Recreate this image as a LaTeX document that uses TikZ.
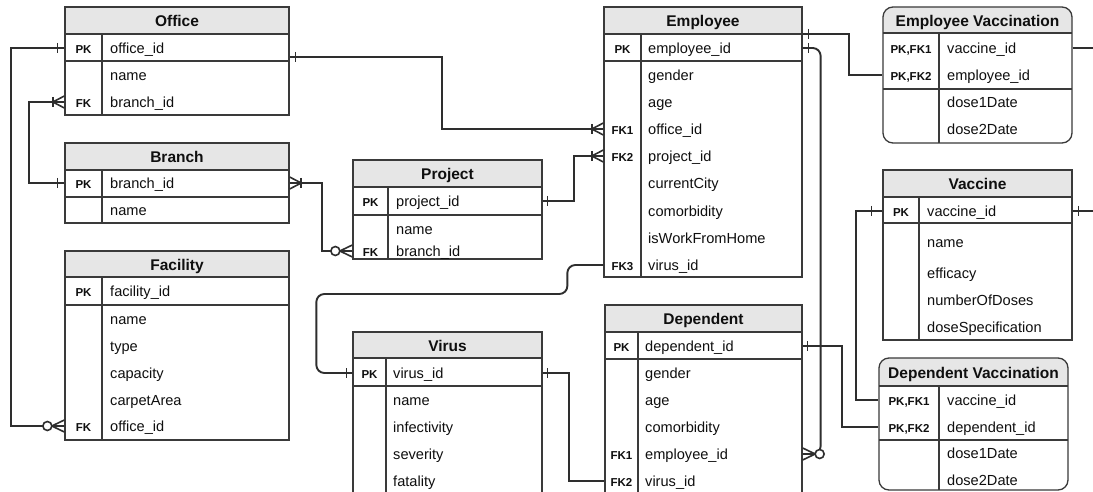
\documentclass[tikz,border=0pt]{standalone}
\usepackage{fontspec}
\setmainfont{Liberation Sans}
\usetikzlibrary{fit,calc}
\definecolor{titlefill}{HTML}{E6E6E6}
\definecolor{ink}{HTML}{2E2E2E}
\definecolor{boxink}{HTML}{3A3A3A}
\definecolor{txt}{HTML}{0F0F0F}

\tikzset{
  tbox/.style={draw=boxink, line width=1.3pt, inner sep=0pt, minimum size=0pt},
  tline/.style={draw=boxink, line width=1.2pt},
  ttitle/.style={font=\bfseries\fontsize{15.5}{18}\selectfont, text=txt, inner sep=0pt},
  tfield/.style={font=\fontsize{14.6}{17}\selectfont, text=txt, inner sep=0pt},
  tkey/.style={font=\bfseries\fontsize{11.5}{13}\selectfont, text=txt, inner sep=0pt},
  conn/.style={draw=ink, line width=1.9pt},
  ermark/.style={draw=ink, line width=1.6pt},
}

% #1 name, #2 x1, #3 y1, #4 x2, #5 y2, #6 y title bottom, #7 x divider, #8 title, #9 y key separator
\newcommand\ertbl[9]{%
  \fill[titlefill] (#2,#3) rectangle (#4,#6);
  \draw[tline] (#2,#6) -- (#4,#6);
  \draw[tline] (#7,#6) -- (#7,#5);
  \draw[tline] (#2,#9) -- (#4,#9);
  \node[tbox, fit={(#2,#3) (#4,#5)}] (#1) {};
  \coordinate (#1-tl) at (#2,#6);
  \node[ttitle, anchor=base] (#1-t) at ({(#2+#4)/2},{(#3+#6)/2+6.3}) {#8};
}
\newcommand\ertblr[9]{%
  \fill[titlefill] (#2,#6) {[rounded corners=10pt] -- (#2,#3) -- (#4,#3)} -- (#4,#6) -- cycle;
  \draw[tline] (#2,#6) -- (#4,#6);
  \draw[tline] (#7,#6) -- (#7,#5);
  \draw[tline] (#2,#9) -- (#4,#9);
  \node[tbox, rounded corners=10pt, fit={(#2,#3) (#4,#5)}] (#1) {};
  \coordinate (#1-tl) at (#2,#6);
  \node[ttitle, anchor=base] (#1-t) at ({(#2+#4)/2},{(#3+#6)/2+6.3}) {#8};
}
% #1 table, #2 id, #3 y, #4 key x, #5 key, #6 field x, #7 field
\newcommand\errow[7]{%
  \coordinate (#1-#2) at (#6,#3);
  \node[tkey, anchor=base] (#1-#2-k) at ({#4},{#3+5.5}) {#5};
  \node[tfield, anchor=base west] (#1-#2-f) at ({#6},{#3+5.5}) {#7};
}
% marks: #1 offset, #2 point, #3 direction (1 = outward to the right, -1 = to the left)
\newcommand\markone[3][7]{%
  \begin{scope}[shift={(#2)}, xscale=#3]
    \draw[ermark] (#1,-5) -- (#1,5);
  \end{scope}}
\newcommand\markmany[2]{%
  \begin{scope}[shift={(#1)}, xscale=#2]
    \draw[ermark] (0,-6) -- (11.5,0) -- (0,6);
    \draw[ermark] (11.5,-5) -- (11.5,5);
  \end{scope}}
\newcommand\markzmany[2]{%
  \begin{scope}[shift={(#1)}, xscale=#2]
    \draw[ermark] (0,-6) -- (12.5,0) -- (0,6);
    \draw[ermark] (0,0) -- (12.5,0);
    \draw[ermark, fill=white] (17,0) circle (4.5);
  \end{scope}}

\begin{document}
\begin{tikzpicture}[x=1pt, y=-1pt]
\useasboundingbox (0,0) rectangle (1093,492);
\clip (0,0) rectangle (1093,492);
\fill[white] (0,0) rectangle (1093,492);

% ---------- Office
\ertbl{office}{65}{7}{289}{115}{34}{102}{Office}{61}
\errow{office}{oid}{48}{83.5}{PK}{110}{office\_id}
\errow{office}{name}{75}{83.5}{}{110}{name}
\errow{office}{bid}{102}{83.5}{FK}{110}{branch\_id}

% ---------- Branch
\ertbl{branch}{65}{143}{289}{223}{170}{102}{Branch}{197}
\errow{branch}{bid}{183}{83.5}{PK}{110}{branch\_id}
\errow{branch}{name}{210}{83.5}{}{110}{name}

% ---------- Facility
\ertbl{facility}{65}{251}{289}{440}{277}{102}{Facility}{305}
\errow{facility}{fid}{291}{83.5}{PK}{110}{facility\_id}
\errow{facility}{name}{319}{83.5}{}{110}{name}
\errow{facility}{type}{346}{83.5}{}{110}{type}
\errow{facility}{cap}{373}{83.5}{}{110}{capacity}
\errow{facility}{area}{400}{83.5}{}{110}{carpetArea}
\errow{facility}{oid}{426}{83.5}{FK}{110}{office\_id}

% ---------- Project
\ertbl{project}{353}{160}{542}{259}{187}{388}{Project}{215}
\errow{project}{pid}{201}{370.5}{PK}{396}{project\_id}
\errow{project}{name}{229}{370.5}{}{396}{name}
\errow{project}{bid}{251}{370.5}{FK}{396}{branch\_id}

% ---------- Employee
\ertbl{employee}{604}{7}{802}{277}{34}{641}{Employee}{61}
\errow{employee}{eid}{48}{622.5}{PK}{648}{employee\_id}
\errow{employee}{gender}{75}{622.5}{}{648}{gender}
\errow{employee}{age}{102}{622.5}{}{648}{age}
\errow{employee}{oid}{129}{622.5}{FK1}{648}{office\_id}
\errow{employee}{pid}{156}{622.5}{FK2}{648}{project\_id}
\errow{employee}{city}{183}{622.5}{}{648}{currentCity}
\errow{employee}{comorb}{211}{622.5}{}{648}{comorbidity}
\errow{employee}{wfh}{238}{622.5}{}{648}{isWorkFromHome}
\errow{employee}{vid}{265}{622.5}{FK3}{648}{virus\_id}

% ---------- Employee Vaccination
\ertblr{ev}{883}{7}{1072}{143}{33}{939}{Employee Vaccination}{89}
\errow{ev}{vid}{48}{911}{PK,FK1}{947}{vaccine\_id}
\errow{ev}{eid}{75}{911}{PK,FK2}{947}{employee\_id}
\errow{ev}{d1}{102}{911}{}{947}{dose1Date}
\errow{ev}{d2}{129}{911}{}{947}{dose2Date}

% ---------- Vaccine
\ertbl{vaccine}{883}{170}{1072}{340}{197}{919}{Vaccine}{223}
\errow{vaccine}{vid}{211}{901}{PK}{927}{vaccine\_id}
\errow{vaccine}{name}{242}{901}{}{927}{name}
\errow{vaccine}{eff}{273}{901}{}{927}{efficacy}
\errow{vaccine}{nod}{300}{901}{}{927}{numberOfDoses}
\errow{vaccine}{spec}{327}{901}{}{927}{doseSpecification}

% ---------- Dependent Vaccination
\ertblr{dv}{879}{358}{1068}{490}{386}{939}{Dependent Vaccination}{440}
\errow{dv}{vid}{400}{909}{PK,FK1}{947}{vaccine\_id}
\errow{dv}{did}{427}{909}{PK,FK2}{947}{dependent\_id}
\errow{dv}{d1}{453}{909}{}{947}{dose1Date}
\errow{dv}{d2}{480}{909}{}{947}{dose2Date}

% ---------- Virus
\ertbl{virus}{353}{332}{542}{505}{358}{386}{Virus}{386}
\errow{virus}{vid}{373}{369.5}{PK}{393}{virus\_id}
\errow{virus}{name}{400}{369.5}{}{393}{name}
\errow{virus}{inf}{427}{369.5}{}{393}{infectivity}
\errow{virus}{sev}{454}{369.5}{}{393}{severity}
\errow{virus}{fat}{481}{369.5}{}{393}{fatality}

% ---------- Dependent
\ertbl{dependent}{605}{305}{802}{505}{332}{638}{Dependent}{359}
\errow{dependent}{did}{346}{621.5}{PK}{645}{dependent\_id}
\errow{dependent}{gender}{373}{621.5}{}{645}{gender}
\errow{dependent}{age}{400}{621.5}{}{645}{age}
\errow{dependent}{comorb}{427}{621.5}{}{645}{comorbidity}
\errow{dependent}{eid}{454}{621.5}{FK1}{645}{employee\_id}
\errow{dependent}{vid}{481}{621.5}{FK2}{645}{virus\_id}

% ---------- Connectors
\draw[conn] (office.west |- office-oid) -- ++(-53,0) |- (facility.west |- facility-oid);
\draw[conn] (office.west |- office-bid) -- ++(-35,0) |- (branch.west |- branch-bid);
\draw[conn] ($(office.east |- office-oid)+(0,9)$) -- ++(152,0) |- (employee.west |- employee-oid);
\draw[conn] (branch.east |- branch-bid) -- ++(32,0) |- (project.west |- project-bid);
\draw[conn] (project.east |- project-pid) -- ++(31,0) |- (employee.west |- employee-pid);
\draw[conn, rounded corners=8pt] (employee.west |- employee-vid) -- ++(-36,0) -- ++(0,29) -- ++(-251,0) |- (virus.west |- virus-vid);
\draw[conn] (virus.east |- virus-vid) -- ++(26,0) |- (dependent.west |- dependent-vid);
\draw[conn] {[rounded corners=8pt] (employee.east |- employee-eid) -- ++(18,0) -- ($(dependent.east |- dependent-eid)+(18,0)$)} -- (dependent.east |- dependent-eid);
\draw[conn] (employee.east |- employee-tl) -- ++(46,0) |- (ev.west |- ev-eid);
\coordinate (offev) at (1100,48);
\coordinate (offvac) at (1100,211);
\draw[conn] (ev.east |- ev-vid) -- (offev);
\draw[conn] (vaccine.east |- vaccine-vid) -- (offvac);
\draw[conn] (vaccine.west |- vaccine-vid) -- ++(-26,0) |- (dv.west |- dv-vid);
\draw[conn] (dependent.east |- dependent-did) -- ++(39,0) |- (dv.west |- dv-did);

% ---------- Marks
\markone{office.west |- office-oid}{-1}
\markzmany{facility.west |- facility-oid}{-1}
\markmany{office.west |- office-bid}{-1}
\markone{branch.west |- branch-bid}{-1}
\markone[6]{$(office.east |- office-oid)+(0,9)$}{1}
\markmany{employee.west |- employee-oid}{-1}
\markmany{employee.west |- employee-pid}{-1}
\markmany{branch.east |- branch-bid}{1}
\markzmany{project.west |- project-bid}{-1}
\markone[5]{project.east |- project-pid}{1}
\markone[6]{virus.west |- virus-vid}{-1}
\markone[5]{virus.east |- virus-vid}{1}
\markone[6]{employee.east |- employee-tl}{1}
\markone[6]{employee.east |- employee-eid}{1}
\markzmany{dependent.east |- dependent-eid}{1}
\markone[11]{vaccine.west |- vaccine-vid}{-1}
\markone[6]{vaccine.east |- vaccine-vid}{1}
\markone[5]{dependent.east |- dependent-did}{1}
\end{tikzpicture}
\end{document}
